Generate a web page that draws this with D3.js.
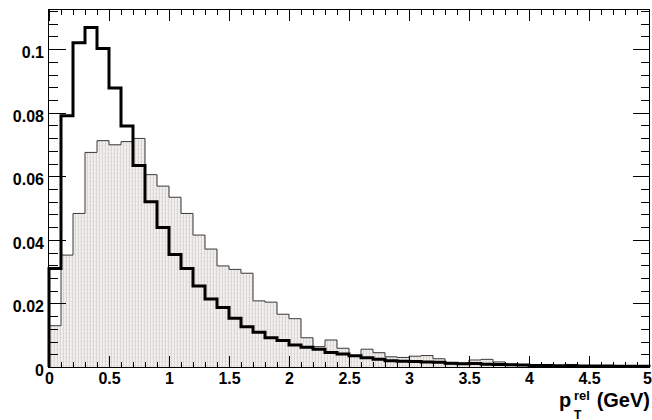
<!DOCTYPE html>
<html>
<head>
<meta charset="utf-8">
<script src="https://cdn.jsdelivr.net/npm/d3@7"></script>
<style>
  html, body { margin: 0; padding: 0; background: #fff; }
  svg { display: block; }
  text { font-family: "Liberation Sans", Arial, Helvetica, sans-serif; font-weight: bold; fill: #000; }
</style>
</head>
<body>
<svg id="chart" width="652" height="420"></svg>
<script>
// ---- data ----
const binEdgesStart = 0;
const binWidth = 0.1;
const blackHist = [0.031, 0.079, 0.102, 0.1068, 0.1002, 0.0878, 0.0758, 0.0634, 0.052, 0.0439,
  0.0354, 0.031, 0.0255, 0.0214, 0.0187, 0.0153, 0.0127, 0.0109, 0.0092, 0.0083,
  0.0069, 0.0062, 0.0056, 0.0046, 0.0041, 0.0035, 0.0029, 0.0024, 0.002, 0.0018,
  0.0017, 0.0016, 0.0015, 0.0012, 0.0010, 0.0011, 0.0009, 0.0008, 0.0007, 0.0006,
  0.0005, 0.0005, 0.0004, 0.0004, 0.0003, 0.0003, 0.0003, 0.0002, 0.0002, 0.0002];
const filledHist = [0.013, 0.0352, 0.0483, 0.0675, 0.0712, 0.0699, 0.0709, 0.0719, 0.0605, 0.0569,
  0.0534, 0.0483, 0.0415, 0.0371, 0.0318, 0.0307, 0.0295, 0.0208, 0.0204, 0.0166,
  0.0152, 0.0092, 0.0064, 0.0085, 0.0059, 0.0033, 0.0056, 0.0045, 0.0032, 0.0030,
  0.0034, 0.0036, 0.0026, 0.0009, 0.0012, 0.0022, 0.0024, 0.0016, 0.0009, 0.0007,
  0.0005, 0.0008, 0.0004, 0.0008, 0.0003, 0.0003, 0.0002, 0.0002, 0.0002, 0.0001];
const xMajorTicks = [0, 0.5, 1, 1.5, 2, 2.5, 3, 3.5, 4, 4.5, 5];
const xTickLabels = ["0", "0.5", "1", "1.5", "2", "2.5", "3", "3.5", "4", "4.5", "5"];
const yMajorTicks = [0, 0.02, 0.04, 0.06, 0.08, 0.1];
const yTickLabels = ["0", "0.02", "0.04", "0.06", "0.08", "0.1"];
const xDomain = [0, 5];
const yDomain = [0, 0.1123];

// ---- layout ----
const L = 49, R = 649, T = 10, B = 367;
const svg = d3.select("#chart");
const x = d3.scaleLinear().domain(xDomain).range([L, R]);
const y = d3.scaleLinear().domain(yDomain).range([B, T]);

// pattern fill
const defs = svg.append("defs");
const pat = defs.append("pattern").attr("id", "hatch").attr("patternUnits", "userSpaceOnUse")
  .attr("width", 3).attr("height", 4);
pat.append("rect").attr("width", 3).attr("height", 4).attr("fill", "#f1efed");
pat.append("rect").attr("x", 0).attr("width", 1).attr("height", 4).attr("fill", "#dad7d4");
pat.append("rect").attr("x", 2).attr("y", 1).attr("width", 1).attr("height", 1).attr("fill", "#e6ddd2");

function pts(vals) {
  const p = vals.map((v, i) => [binEdgesStart + i * binWidth, v]);
  p.push([binEdgesStart + vals.length * binWidth, vals[vals.length - 1]]);
  return p;
}

// filled histogram
const area = d3.area().curve(d3.curveStepAfter)
  .x(d => x(d[0])).y0(y(0)).y1(d => y(d[1]));
svg.append("path").datum(pts(filledHist)).attr("d", area).attr("fill", "url(#hatch)");

const line = d3.line().curve(d3.curveStepAfter).x(d => x(d[0])).y(d => y(d[1]));
const fp = [[0, 0]].concat(pts(filledHist)).concat([[5, 0]]);
svg.append("path").datum(fp).attr("d", line)
  .attr("fill", "none").attr("stroke", "#3a3a3a").attr("stroke-width", 1);

// black histogram
const bp = [[0, 0]].concat(pts(blackHist)).concat([[5, 0]]);
svg.append("path").datum(bp).attr("d", line)
  .attr("fill", "none").attr("stroke", "#000").attr("stroke-width", 3)
  .attr("stroke-linejoin", "miter");

// ---- axes ----
const xMinor = d3.range(0, 50.5, 1).map(d => d / 10).filter(v => Math.abs(v * 2 - Math.round(v * 2)) > 1e-6);
const yMinor = d3.range(0, 29, 1).map(d => d * 0.004).filter(v => v <= yDomain[1] && Math.abs(v / 0.02 - Math.round(v / 0.02)) > 1e-6);

function styleAxis(g) {
  g.select(".domain").remove();
  g.selectAll("line").attr("stroke", "#000").attr("stroke-width", 1).attr("shape-rendering", "crispEdges");
  g.selectAll("text").attr("font-size", 16).attr("font-weight", "bold")
    .attr("font-family", "'Liberation Sans', Arial, sans-serif").attr("fill", "#000");
}

// bottom
const gb = svg.append("g").attr("transform", `translate(0,${B})`)
  .call(d3.axisBottom(x).tickValues(xMajorTicks).tickSize(-11).tickPadding(6)
    .tickFormat((d, i) => xTickLabels[i]))
  .call(styleAxis);
gb.selectAll("text").filter(d => d === 5).attr("text-anchor", "end").attr("x", 2.5);
svg.append("g").attr("transform", `translate(0,${B})`)
  .call(d3.axisBottom(x).tickValues(xMinor).tickSize(-5).tickFormat(""))
  .call(styleAxis);
// top
svg.append("g").attr("transform", `translate(0,${T})`)
  .call(d3.axisTop(x).tickValues(xMajorTicks).tickSize(-11).tickFormat(""))
  .call(styleAxis);
svg.append("g").attr("transform", `translate(0,${T})`)
  .call(d3.axisTop(x).tickValues(xMinor).tickSize(-5).tickFormat(""))
  .call(styleAxis);
// left
const gl = svg.append("g").attr("transform", `translate(${L},0)`)
  .call(d3.axisLeft(y).tickValues(yMajorTicks).tickSize(-16.5).tickPadding(5)
    .tickFormat((d, i) => yTickLabels[i]))
  .call(styleAxis);
gl.selectAll("text").attr("dy", "0.52em");
svg.append("g").attr("transform", `translate(${L},0)`)
  .call(d3.axisLeft(y).tickValues(yMinor).tickSize(-8.5).tickFormat(""))
  .call(styleAxis);
// right
svg.append("g").attr("transform", `translate(${R},0)`)
  .call(d3.axisRight(y).tickValues(yMajorTicks).tickSize(-16.5).tickFormat(""))
  .call(styleAxis);
svg.append("g").attr("transform", `translate(${R},0)`)
  .call(d3.axisRight(y).tickValues(yMinor).tickSize(-8.5).tickFormat(""))
  .call(styleAxis);

// frame
svg.append("rect").attr("x", L - 0.5).attr("y", T - 0.5).attr("width", R - L + 1).attr("height", B - T + 1)
  .attr("fill", "none").attr("stroke", "#000").attr("stroke-width", 1);

// axis title: p_T^rel (GeV)
const title = svg.append("g");
title.append("text").attr("x", 559).attr("y", 407).attr("font-size", 20).text("p");
title.append("text").attr("x", 574).attr("y", 400).attr("font-size", 13).text("rel");
title.append("text").attr("x", 574).attr("y", 418.5).attr("font-size", 12).text("T");
title.append("text").attr("x", 650).attr("y", 407).attr("font-size", 20).attr("text-anchor", "end").text("(GeV)");
</script>
</body>
</html>
